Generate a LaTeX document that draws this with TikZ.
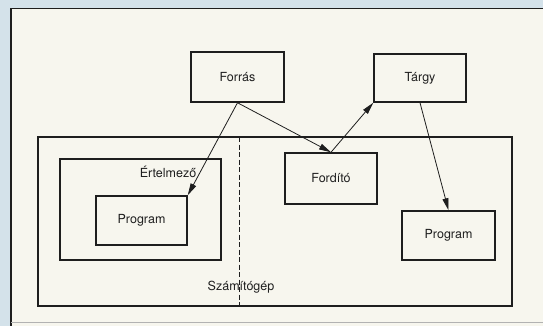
\documentclass[tikz,border=0pt]{standalone}
\usepackage{fontspec}
\setmainfont{TeX Gyre Heros}
\usetikzlibrary{arrows.meta}
\definecolor{bgblue}{RGB}{212,226,234}
\definecolor{paper}{RGB}{247,246,238}
\definecolor{ink}{RGB}{30,30,30}
\begin{document}
\begin{tikzpicture}[x=1pt,y=-1pt,
  box/.style={draw=ink, line width=1.5pt, inner sep=0pt, font=\fontsize{12.5}{14}\selectfont, text=ink},
  arr/.style={draw=ink, line width=0.8pt, -{Triangle[length=12pt,width=6pt]}}]
\useasboundingbox (0,0) rectangle (543,326);
\fill[bgblue] (0,0) rectangle (543,326);
\fill[paper] (11,8) rectangle (543,326);
\draw[ink, line width=1.5pt] (11,326) -- (11,8.5) -- (543,8.5);
\draw[gray!60, line width=0.8pt] (11,322.5) -- (543,322.5);
% big box
\node[box, minimum width=474pt, minimum height=169pt] (gep) at (275,221.5) {};
\coordinate (dtop) at (239,137);
\coordinate (dbot) at (239,306);
\draw[ink, line width=0.7pt, dash pattern=on 5pt off 2.5pt] (dtop) -- (dbot);
\node[font=\fontsize{12.5}{14}\selectfont, text=ink] (gepl) at (241,287) {Számítógép};
% interpreter
\node[box, minimum width=161pt, minimum height=101pt] (ertel) at (140.5,209.5) {};
\node[font=\fontsize{12.5}{14}\selectfont, text=ink] (ertell) at (168,172) {Értelmező};
\node[box, minimum width=91pt, minimum height=49pt] (prog1) at (141.5,220.5) {Program};
% others
\node[box, minimum width=93pt, minimum height=50pt] (forras) at (237.5,77) {Forrás};
\node[box, minimum width=92pt, minimum height=48pt] (targy) at (420,78) {Tárgy};
\node[box, minimum width=92pt, minimum height=51pt] (fordito) at (331,178.5) {Fordító};
\node[box, minimum width=93pt, minimum height=49pt] (prog2) at (448.5,235.5) {Program};
% arrows
\draw[arr] (forras.south) -- (prog1.north east);
\draw[arr] (forras.south) -- (fordito.north);
\draw[arr] (fordito.north) -- (targy.south west);
\draw[arr] (targy.south) -- (prog2.north);
\end{tikzpicture}
\end{document}
